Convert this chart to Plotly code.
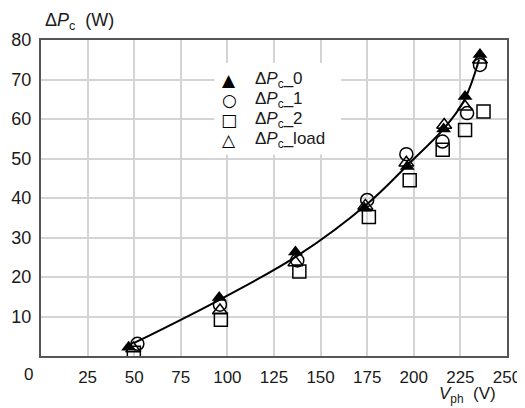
import plotly.graph_objects as go

# Data
V_0 = [47, 95.6, 136.5, 173.5, 196.5, 216, 227.5, 235.5]
P_0 = [2.2, 14.8, 26.3, 37.4, 48.0, 57.5, 65.7, 76.3]

V_1 = [51.7, 96, 137.5, 175, 196, 215.4, 228.6, 235.5]
P_1 = [3.1, 13.0, 24.2, 39.5, 51.1, 54.3, 61.5, 73.7]

V_2 = [49.8, 96.5, 138.6, 175.9, 197.8, 215.5, 227.5, 237.4]
P_2 = [0.8, 9.2, 21.4, 35.2, 44.5, 52.2, 57.2, 61.9]

V_load = [49.5, 96, 136.5, 174, 196, 216.3, 227.5, 235.5]
P_load = [1.9, 11.5, 23.7, 38.0, 48.9, 58.5, 63.1, 75.0]

fit_V = [50, 96, 137, 175, 197, 216, 227, 235]
fit_P = [3.3, 14.3, 25.2, 38.5, 48.5, 57.5, 64.7, 75.0]

x_ticks = [25, 50, 75, 100, 125, 150, 175, 200, 225, 250]
y_ticks = [10, 20, 30, 40, 50, 60, 70, 80]

legend_symbols = ["▲", "○", "□", "△"]
legend_labels = ["Δ<i>P</i><sub>c</sub>_0", "Δ<i>P</i><sub>c</sub>_1",
                 "Δ<i>P</i><sub>c</sub>_2", "Δ<i>P</i><sub>c</sub>_load"]

FONT = "Liberation Sans, Arial, Helvetica, sans-serif"

fig = go.Figure()
fig.add_trace(go.Scatter(x=fit_V, y=fit_P, mode="lines", line=dict(color="black", width=2, shape="spline"),
                         showlegend=False, hoverinfo="skip"))

mk = dict(size=13, line=dict(color="black", width=1.5))
fig.add_trace(go.Scatter(x=V_0, y=P_0, mode="markers", name="ΔPc_0",
                         marker=dict(symbol="triangle-up", color="black", size=13, line=dict(width=0))))
fig.add_trace(go.Scatter(x=V_1, y=P_1, mode="markers", name="ΔPc_1",
                         marker=dict(symbol="circle-open", color="black", **mk)))
fig.add_trace(go.Scatter(x=V_2, y=P_2, mode="markers", name="ΔPc_2",
                         marker=dict(symbol="square-open", color="black", **mk)))
fig.add_trace(go.Scatter(x=V_load, y=P_load, mode="markers", name="ΔPc_load",
                         marker=dict(symbol="triangle-up-open", color="black", **mk)))

# body has an 8px default margin in the page, so the figure is 8px smaller
fig.update_layout(
    width=517, height=400,
    margin=dict(l=33, r=18, t=32, b=52, autoexpand=False),
    paper_bgcolor="white", plot_bgcolor="white",
    font=dict(family=FONT, size=17, color="#1a1a1a"),
    showlegend=False,
)
fig.update_xaxes(range=[0, 250], tickvals=x_ticks, showgrid=True, gridcolor="#d4d4d4", gridwidth=1.5,
                 showline=True, linecolor="#555", linewidth=2, mirror=True, zeroline=False,
                 ticks="", ticklabelstandoff=5, automargin=False)
fig.update_yaxes(range=[0, 80], tickvals=y_ticks, showgrid=True, gridcolor="#d4d4d4", gridwidth=1.5,
                 showline=True, linecolor="#555", linewidth=2, mirror=True, zeroline=False,
                 ticks="", ticklabelstandoff=4, automargin=False, tickfont=dict(size=18))

# legend box (white, between grid and traces)
fig.add_shape(type="rect", xref="x", yref="y", x0=93, x1=161, y0=51, y1=74.2,
              fillcolor="white", line=dict(width=0), layer="between")
row_y = [69.9, 64.8, 59.8, 54.7]
for sym, lab, yy in zip(legend_symbols, legend_labels, row_y):
    fig.add_annotation(text=sym, x=101, y=yy, xref="x", yref="y", xanchor="center", yanchor="middle",
                       showarrow=False, font=dict(size=17, family="DejaVu Sans", color="black"))
    fig.add_annotation(text=lab, x=113.9, y=yy, xref="x", yref="y", xanchor="left", yanchor="middle",
                       showarrow=False, font=dict(size=17))

fig.add_annotation(text="Δ<i>P</i><sub>c</sub>&nbsp; (W)", xref="paper", yref="paper", x=0.004, y=1.057,
                   xanchor="left", yanchor="middle", showarrow=False, font=dict(size=18))
fig.add_annotation(text="<i>V</i><sub>ph</sub>&nbsp; (V)", xref="paper", yref="paper", x=0.981, y=-0.123,
                   xanchor="right", yanchor="middle", showarrow=False, font=dict(size=17))
fig.add_annotation(text="0", xref="paper", yref="paper", x=-0.026, y=-0.06,
                   xanchor="center", yanchor="middle", showarrow=False, font=dict(size=17))

fig.write_html("out.html")
